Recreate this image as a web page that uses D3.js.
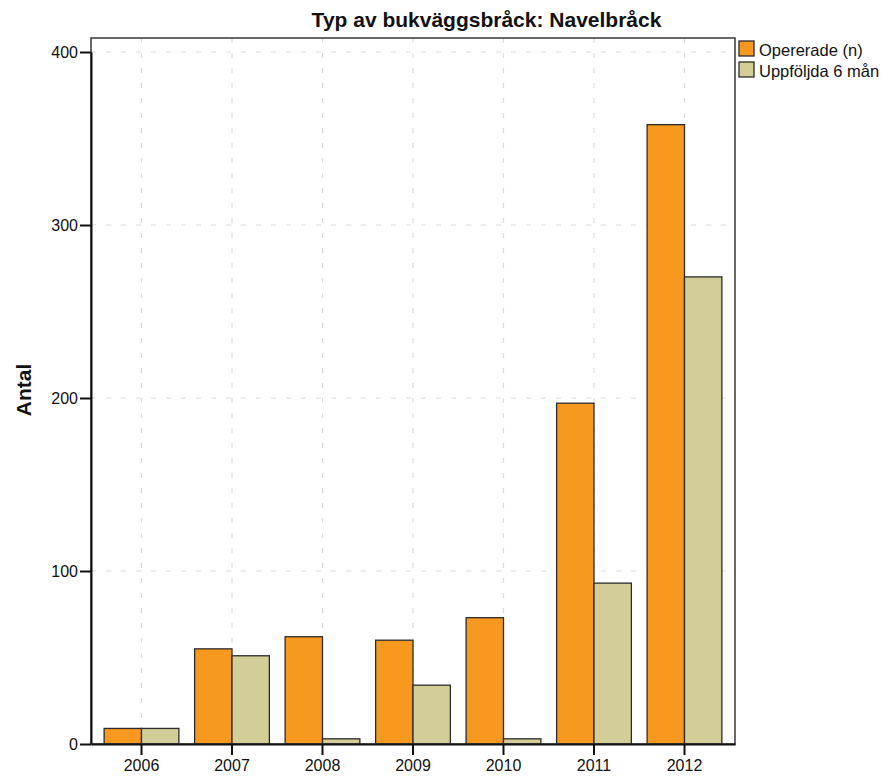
<!DOCTYPE html>
<html>
<head>
<meta charset="utf-8">
<script src="https://cdn.jsdelivr.net/npm/d3@7/dist/d3.min.js"></script>
<style>
html,body{margin:0;padding:0;background:#fff;}
text{font-family:"Liberation Sans",Arial,sans-serif;}
</style>
</head>
<body>
<div id="chart"></div>
<script>
const years = ["2006","2007","2008","2009","2010","2011","2012"];
const opererade = [9, 55, 62, 60, 73, 197, 358];
const uppfoljda = [9, 51, 3, 34, 3, 93, 270];
const seriesNames = ["Opererade (n)", "Uppföljda 6 mån"];
const seriesColors = ["#F7981F", "#D3CE98"];
const yTicks = [0, 100, 200, 300, 400];
const title = "Typ av bukväggsbråck: Navelbråck";
const yLabel = "Antal";

(function(){
const W = 886, H = 778;
const mLeft = 91, mRight = 735, mTop = 38, mBottom = 744;

const svg = d3.select("#chart").append("svg").attr("width", W).attr("height", H);

const x = d3.scaleBand().domain(years).range([mLeft, mRight]).paddingOuter(0.058).paddingInner(0);
const y = d3.scaleLinear().domain([0, 400]).range([mBottom, 52]);

// grid
const grid = svg.append("g");
grid.selectAll("line.h").data(yTicks.slice(1)).enter().append("line")
  .attr("x1", mLeft).attr("x2", mRight)
  .attr("y1", d => y(d)).attr("y2", d => y(d))
  .attr("stroke", "#dcdcdc").attr("stroke-width", 1.2).attr("stroke-dasharray", "5,10");
grid.selectAll("line.v").data(years).enter().append("line")
  .attr("x1", d => x(d) + x.bandwidth()/2).attr("x2", d => x(d) + x.bandwidth()/2)
  .attr("y1", mTop).attr("y2", mBottom)
  .attr("stroke", "#dcdcdc").attr("stroke-width", 1.2).attr("stroke-dasharray", "5,10");

// bars
const bw = x.bandwidth() * 0.413;
const data = [opererade, uppfoljda];
data.forEach((vals, si) => {
  svg.append("g").selectAll("rect").data(years).enter().append("rect")
    .attr("x", d => x(d) + x.bandwidth()/2 + (si === 0 ? -bw : 0))
    .attr("y", (d,i) => y(vals[i]))
    .attr("width", bw)
    .attr("height", (d,i) => mBottom - y(vals[i]))
    .attr("fill", seriesColors[si])
    .attr("stroke", "#2b2b2b").attr("stroke-width", 1.3);
});

// frame
svg.append("rect").attr("x", mLeft).attr("y", mTop).attr("width", mRight-mLeft).attr("height", mBottom-mTop)
  .attr("fill", "none").attr("stroke", "#444").attr("stroke-width", 1.6);

// y axis
const yAxis = d3.axisLeft(y).tickValues(yTicks).tickSize(11).tickSizeOuter(0).tickPadding(2).tickFormat(d3.format("d"));
const ya = svg.append("g").attr("transform", `translate(${mLeft},0)`).call(yAxis);
ya.select(".domain").attr("stroke", "#111").attr("stroke-width", 2);
ya.selectAll(".tick line").attr("stroke", "#111").attr("stroke-width", 2);
ya.selectAll(".tick text").attr("font-size", "16px").attr("fill", "#111")
  .style("font-family", '"Liberation Sans",Arial,sans-serif');

// x axis
const xAxis = d3.axisBottom(x).tickSize(11).tickSizeOuter(0).tickPadding(5);
const xa = svg.append("g").attr("transform", `translate(0,${mBottom})`).call(xAxis);
xa.select(".domain").attr("stroke", "#111").attr("stroke-width", 2);
xa.selectAll(".tick line").attr("stroke", "#111").attr("stroke-width", 2);
xa.selectAll(".tick text").attr("font-size", "16px").attr("fill", "#111")
  .style("font-family", '"Liberation Sans",Arial,sans-serif');

// title
svg.append("text").attr("x", 486.5).attr("y", 27).attr("text-anchor", "middle")
  .attr("font-size", "21px").attr("font-weight", "bold").attr("fill", "#111").text(title);

// y label
svg.append("text").attr("transform", "translate(31,390) rotate(-90)").attr("text-anchor", "middle")
  .attr("font-size", "21px").attr("font-weight", "bold").attr("fill", "#111").text(yLabel);

// legend
const lg = svg.append("g");
seriesNames.forEach((n, i) => {
  lg.append("rect").attr("x", 739).attr("y", 41 + i*21).attr("width", 15).attr("height", 15)
    .attr("fill", seriesColors[i]).attr("stroke", "#2b2b2b").attr("stroke-width", 1.3);
  lg.append("text").attr("x", 759).attr("y", 55.5 + i*21).attr("font-size", "16.5px").attr("fill", "#111").text(n);
});
})();
</script>
</body>
</html>
